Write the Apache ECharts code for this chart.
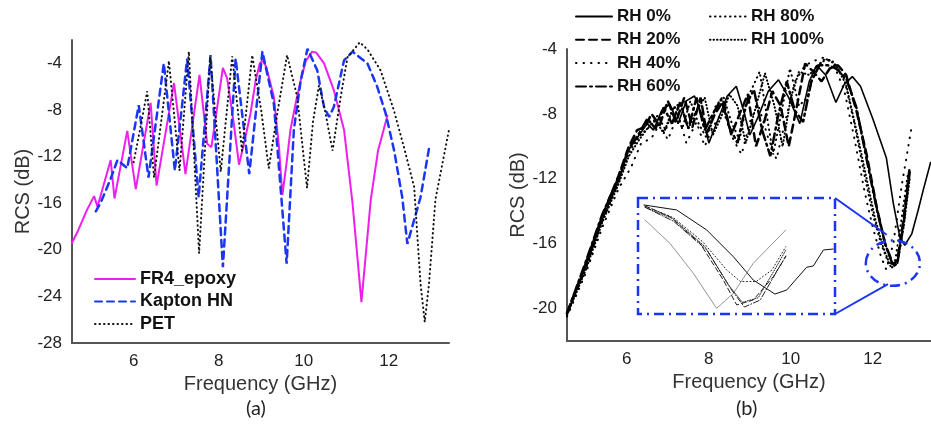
<!DOCTYPE html>
<html><head><meta charset="utf-8">
<script src="https://cdn.jsdelivr.net/npm/echarts@6/dist/echarts.min.js"></script>
<style>html,body{margin:0;padding:0;background:#fff}#c{width:931px;height:434px}</style>
</head><body><div id="c"></div>
<script>
// ---------- Panel (a) ----------
const freqFR4 = [4.55,4.7,4.9,5.07,5.15,5.46,5.55,5.85,6.05,6.4,6.54,6.95,7.22,7.55,7.73,7.83,8.10,8.2,8.35,8.48,8.62,8.75,8.87,8.97,9.03,9.12,9.3,9.42,9.5,9.6,9.69,9.82,9.93,10.05,10.2,10.3,10.48,10.71,10.95,11.15,11.36,11.58,11.75,11.97];
const rcsFR4  = [-19.4,-18.3,-16.6,-15.4,-16.3,-12.3,-15.6,-9.8,-14.8,-7.4,-14.5,-5.7,-13.5,-5.0,-10.9,-11.2,-4.4,-5.3,-9.0,-12.7,-10.5,-8.3,-5.5,-4.0,-3.75,-4.3,-6.9,-11.2,-15.3,-12.5,-9.7,-7.3,-5.5,-3.8,-3.0,-3.1,-4.0,-6.3,-9.7,-16.0,-24.5,-15.7,-11.5,-8.5];
const freqKap = [5.11,5.22,5.46,5.62,5.85,6.12,6.35,6.71,6.97,7.26,7.53,7.81,8.1,8.4,8.72,9.03,9.3,9.6,9.77,9.93,10.09,10.32,10.48,10.6,10.71,10.95,11.15,11.5,11.73,11.93,12.13,12.32,12.44,12.75,12.95];
const rcsKap  = [-16.7,-16.0,-13.9,-12.3,-13.0,-7.6,-13.8,-4.0,-13.2,-3.6,-15.5,-3.3,-21.5,-3.6,-13.5,-3.0,-7.5,-21.2,-9.7,-5.5,-2.75,-4.6,-7.75,-8.6,-7.75,-3.75,-3.0,-4.0,-6.0,-8.3,-11.5,-15.5,-19.5,-15.5,-11.3];
const freqPET = [6.0,6.15,6.32,6.48,6.83,7.08,7.3,7.54,7.8,8.05,8.32,8.55,8.79,9.0,9.18,9.38,9.61,9.85,10.0,10.08,10.22,10.36,10.5,10.68,10.87,11.03,11.32,11.5,11.81,12.12,12.36,12.6,12.75,12.85,12.95,13.1,13.42];
const rcsPET  = [-12.5,-9.7,-6.4,-13.8,-3.8,-13.2,-3.0,-20.3,-3.5,-13.3,-3.4,-11.5,-3.3,-8.0,-13.0,-8.3,-3.3,-6.9,-12.0,-14.7,-9.0,-5.9,-8.0,-11.5,-6.9,-3.5,-2.2,-2.8,-4.6,-8.0,-11.2,-14.6,-22.9,-26.2,-22.9,-15.7,-9.7];
const ticksXa = [6,8,10,12];
const ticksYa = [-28,-24,-20,-16,-12,-8,-4];

// ---------- Panel (b) ----------
const freqRH0 = [4.54,5.0,5.4,5.8,6.05,6.3,6.5,6.65,6.85,7.05,7.25,7.45,7.65,7.85,8.0,8.2,8.45,8.67,8.85,9.0,9.2,9.45,9.7,9.95,10.22,10.45,10.63,10.85,11.1,11.3,11.5,11.7,12.0,12.33,12.5,12.66,12.78,12.95,13.1,13.23,13.41];
const rcsRH0  = [-20.3,-17.4,-14.5,-12.1,-10.2,-9.3,-8.6,-9.0,-7.8,-7.4,-8.6,-7.2,-6.9,-8.2,-9.8,-8.5,-6.9,-6.3,-7.8,-9.3,-8.2,-6.6,-5.9,-7.0,-8.6,-6.0,-5.0,-5.6,-7.3,-6.2,-5.7,-6.3,-8.3,-10.7,-13.5,-15.6,-16.1,-15.4,-14.0,-12.7,-11.0];
const freqRH20 = [4.54,5.0,5.4,5.8,6.05,6.25,6.45,6.6,6.8,7.0,7.2,7.4,7.6,7.8,7.95,8.15,8.35,8.55,8.75,8.95,9.15,9.35,9.55,9.75,9.95,10.15,10.35,10.55,10.75,10.95,11.15,11.35,11.6,11.85,12.1,12.3,12.5,12.6,12.75,12.9];
const rcsRH20  = [-20.3,-17.2,-14.3,-11.8,-10.0,-9.0,-8.8,-8.0,-8.7,-7.2,-8.5,-7.0,-8.8,-7.0,-9.2,-8.0,-7.2,-9.3,-8.0,-6.8,-10.0,-8.5,-6.6,-7.5,-10.0,-7.5,-4.9,-5.4,-6.0,-5.2,-5.0,-5.6,-7.8,-10.5,-13.8,-16.0,-17.3,-17.0,-14.5,-11.3];
const freqRH40 = [4.54,5.0,5.4,5.8,6.1,6.35,6.6,6.8,7.0,7.25,7.45,7.7,7.9,8.1,8.35,8.6,8.8,9.0,9.2,9.45,9.65,9.85,10.1,10.35,10.6,10.83,11.05,11.3,11.55,11.8,12.0,12.2,12.33,12.5,12.7,12.94];
const rcsRH40  = [-20.5,-17.8,-15.0,-12.6,-11.3,-9.8,-9.5,-8.6,-9.6,-8.0,-9.8,-8.5,-10.0,-8.8,-7.8,-9.6,-10.5,-8.5,-7.4,-9.5,-10.8,-8.6,-6.0,-5.0,-4.7,-4.5,-5.0,-6.5,-9.5,-12.8,-15.0,-16.8,-17.6,-16.0,-12.5,-8.9];
const freqRH60 = [4.54,5.0,5.4,5.8,6.05,6.3,6.5,6.7,6.9,7.1,7.3,7.5,7.7,7.9,8.1,8.3,8.5,8.7,8.9,9.1,9.3,9.5,9.7,9.9,10.1,10.3,10.5,10.7,10.9,11.1,11.35,11.6,11.85,12.1,12.3,12.5,12.6,12.75,12.9];
const rcsRH60  = [-20.3,-17.1,-14.2,-11.9,-10.1,-9.2,-8.3,-8.9,-7.6,-8.6,-7.3,-8.9,-7.0,-9.0,-8.0,-7.1,-8.8,-9.8,-7.5,-6.5,-9.0,-10.6,-8.0,-6.0,-7.8,-8.5,-6.0,-5.0,-5.0,-5.2,-5.8,-7.6,-10.8,-13.9,-16.0,-17.4,-17.2,-14.8,-11.6];
const freqRH80 = [4.54,5.0,5.4,5.8,6.05,6.3,6.55,6.75,6.95,7.15,7.35,7.55,7.75,7.95,8.15,8.35,8.55,8.75,8.95,9.24,9.57,9.98,10.2,10.4,10.6,10.83,11.05,11.3,11.55,11.8,12.0,12.2,12.4,12.55,12.7,12.85];
const rcsRH80  = [-20.4,-17.5,-14.6,-12.2,-10.4,-9.4,-8.8,-8.1,-9.0,-7.5,-8.9,-7.2,-8.6,-9.5,-7.6,-6.9,-8.5,-9.6,-7.0,-5.4,-10.5,-5.2,-7.5,-7.0,-5.2,-4.6,-4.8,-5.8,-8.6,-11.8,-14.2,-16.0,-17.3,-17.0,-14.5,-11.8];
const freqRH100 = [4.54,5.0,5.4,5.8,6.05,6.3,6.5,6.7,6.9,7.1,7.3,7.5,7.7,7.9,8.1,8.3,8.5,8.7,8.9,9.1,9.37,9.6,9.8,10.0,10.2,10.45,10.7,10.9,11.1,11.35,11.6,11.85,12.05,12.25,12.45,12.6,12.75,12.9];
const rcsRH100  = [-20.4,-17.6,-14.7,-12.3,-10.6,-9.6,-8.9,-8.4,-9.2,-7.8,-7.3,-8.9,-7.8,-7.0,-9.3,-8.2,-6.8,-7.5,-9.8,-8.0,-5.5,-7.5,-10.0,-7.0,-5.4,-5.6,-4.9,-4.6,-5.0,-6.2,-9.0,-12.0,-14.4,-16.2,-17.5,-17.2,-15.0,-12.0];
const ticksXb = [6,8,10,12];
const ticksYb = [-20,-16,-12,-8,-4];

// ---------- Inset of panel (b), relative units 0..100 ----------
const inX_RH0 = [3.0,19.6,34.9,48.4,58.5,69.5,75.5,85.6,89.0,94.1,99.1];
const inY_RH0 = [94.0,89.7,72.4,49.4,29.3,17.2,20.7,40.3,41.4,55.2,56.0];
const inX_RH20 = [3.6,16.2,31.5,43.3,50.1,58.5,68.7,75.0];
const inY_RH20 = [93.1,83.9,60.9,29.3,7.8,12.1,32.2,49.4];
const inX_RH40 = [3.6,16.2,28.1,39.9,48.4,58.5,75.0];
const inY_RH40 = [81.0,60.9,35.1,4.9,17.8,43.7,72.4];
const inX_RH60 = [3.6,18,35,47,54,62,75];
const inY_RH60 = [92,80,55,22,6,12,50];
const inX_RH80 = [3.6,18,33,45,52,60,68,75];
const inY_RH80 = [93,83,62,38,28,28,38,58];
const inX_RH100 = [3.6,18,34,46,53,61,70,75];
const inY_RH100 = [92,82,58,25,10,14,40,55];

const zip = (a, b) => a.map((v, i) => [v, b[i]]);
const FONT = '"Liberation Sans", Arial, sans-serif';
const BLUE = '#1b36f2';

const chart = echarts.init(document.getElementById('c'), null, {renderer: 'canvas'});

function valueAxis(gridIndex, min, max, ticks, name, gap) {
  return {
    type: 'value', gridIndex, min, max,
    name, nameLocation: 'middle', nameGap: gap,
    nameTextStyle: {fontFamily: FONT, fontSize: 20, color: '#333'},
    axisLine: {show: true, onZero: false, lineStyle: {color: '#555', width: 2}},
    axisTick: {show: false},
    splitLine: {show: false},
    axisLabel: {customValues: ticks, fontFamily: FONT, fontSize: 17, color: '#222', margin: 10}
  };
}
function hiddenAxis(gridIndex) {
  return {type: 'value', gridIndex, min: 0, max: 100, show: false, splitLine: {show: false}};
}
function line(name, xi, fx, fy, color, width, type) {
  return {
    name, type: 'line', xAxisIndex: xi, yAxisIndex: xi, data: zip(fx, fy),
    symbol: 'none', showSymbol: false, smooth: false, silent: true,
    lineStyle: {color, width, type: type || 'solid', cap: 'round'}, itemStyle: {color}
  };
}
const hideSym = {color: 'rgba(0,0,0,0)', borderWidth: 0, opacity: 0};

chart.setOption({
  animation: false,
  backgroundColor: '#fff',
  grid: [
    {left: 72, top: 40, width: 377, height: 303},
    {left: 567, top: 49, width: 364, height: 292},
    {left: 638, top: 198, width: 197, height: 116, show: true, backgroundColor: '#fff',
     borderColor: BLUE, borderWidth: 2.5, borderType: [10, 5, 2, 5]}
  ],
  xAxis: [
    valueAxis(0, 4.55, 13.42, ticksXa, 'Frequency (GHz)', 30),
    valueAxis(1, 4.54, 13.42, ticksXb, 'Frequency (GHz)', 30),
    hiddenAxis(2)
  ],
  yAxis: [
    valueAxis(0, -28, -2, ticksYa, 'RCS (dB)', 38),
    valueAxis(1, -22, -4, ticksYb, 'RCS (dB)', 28),
    hiddenAxis(2)
  ],
  legend: [
    {data: ['FR4_epoxy', 'Kapton HN', 'PET'], orient: 'vertical', left: 89, top: 265,
     itemWidth: 40, itemHeight: 14, itemGap: 4.5, itemStyle: hideSym,
     textStyle: {fontFamily: FONT, fontSize: 18, fontWeight: 'bold', color: '#111'}},
    {data: ['RH 0%', 'RH 20%', 'RH 40%', 'RH 60%'], orient: 'vertical', left: 570, top: 3,
     itemWidth: 36, itemHeight: 14, itemGap: 6.3, itemStyle: hideSym,
     textStyle: {fontFamily: FONT, fontSize: 17, fontWeight: 'bold', color: '#111'}},
    {data: ['RH 80%', 'RH 100%'], orient: 'vertical', left: 704, top: 3,
     itemWidth: 36, itemHeight: 14, itemGap: 6.3, itemStyle: hideSym,
     textStyle: {fontFamily: FONT, fontSize: 17, fontWeight: 'bold', color: '#111'}}
  ],
  series: [
    line('FR4_epoxy', 0, freqFR4, rcsFR4, '#ee1fee', 2),
    line('Kapton HN', 0, freqKap, rcsKap, BLUE, 2.5, [7, 5]),
    line('PET', 0, freqPET, rcsPET, '#111', 2, [0.5, 4]),
    line('RH 0%', 1, freqRH0, rcsRH0, '#000', 1.6),
    line('RH 20%', 1, freqRH20, rcsRH20, '#000', 2.5, [8, 5]),
    line('RH 40%', 1, freqRH40, rcsRH40, '#000', 2, [0.5, 7]),
    line('RH 60%', 1, freqRH60, rcsRH60, '#000', 2.5, [10, 4, 2, 4]),
    line('RH 80%', 1, freqRH80, rcsRH80, '#000', 2, [0.5, 4.5]),
    line('RH 100%', 1, freqRH100, rcsRH100, '#000', 2, [0.5, 3]),
    line('in RH 0%', 2, inX_RH0, inY_RH0, '#111', 1),
    line('in RH 20%', 2, inX_RH20, inY_RH20, '#222', 1, [5, 3]),
    line('in RH 40%', 2, inX_RH40, inY_RH40, '#777', 0.8),
    line('in RH 60%', 2, inX_RH60, inY_RH60, '#222', 1, [6, 2, 1, 2]),
    line('in RH 80%', 2, inX_RH80, inY_RH80, '#222', 1, [1, 2.5]),
    line('in RH 100%', 2, inX_RH100, inY_RH100, '#222', 1, [1, 1.5])
  ]
});

// annotations: panel labels, zoom ellipse and connector lines (positions via the library's scales)
const ellC = chart.convertToPixel({gridIndex: 1}, [12.49, -17.2]);
const ellE = chart.convertToPixel({gridIndex: 1}, [13.15, -15.8]);
const cTop = chart.convertToPixel({gridIndex: 2}, [100, 100]);
const cBot = chart.convertToPixel({gridIndex: 2}, [100, 0]);
const eTop = chart.convertToPixel({gridIndex: 1}, [12.34, -15.45]);
const eBot = chart.convertToPixel({gridIndex: 1}, [12.37, -18.5]);
chart.setOption({
  graphic: [
    {type: 'text', left: 246, top: 399, style: {text: '(a)', font: '20px Lato, "Open Sans", sans-serif', fill: '#222'}},
    {type: 'text', left: 736, top: 399, style: {text: '(b)', font: '20px Lato, "Open Sans", sans-serif', fill: '#222'}},
    {type: 'ellipse', shape: {cx: ellC[0], cy: ellC[1], rx: ellE[0] - ellC[0], ry: ellC[1] - ellE[1]},
     style: {fill: 'none', stroke: BLUE, lineWidth: 2.5, lineDash: [10, 5, 2, 5]}, z: 10},
    {type: 'line', shape: {x1: cTop[0], y1: cTop[1], x2: eTop[0], y2: eTop[1]},
     style: {stroke: BLUE, lineWidth: 2}, z: 10},
    {type: 'line', shape: {x1: cBot[0], y1: cBot[1], x2: eBot[0], y2: eBot[1]},
     style: {stroke: BLUE, lineWidth: 2}, z: 10}
  ]
});
</script></body></html>
